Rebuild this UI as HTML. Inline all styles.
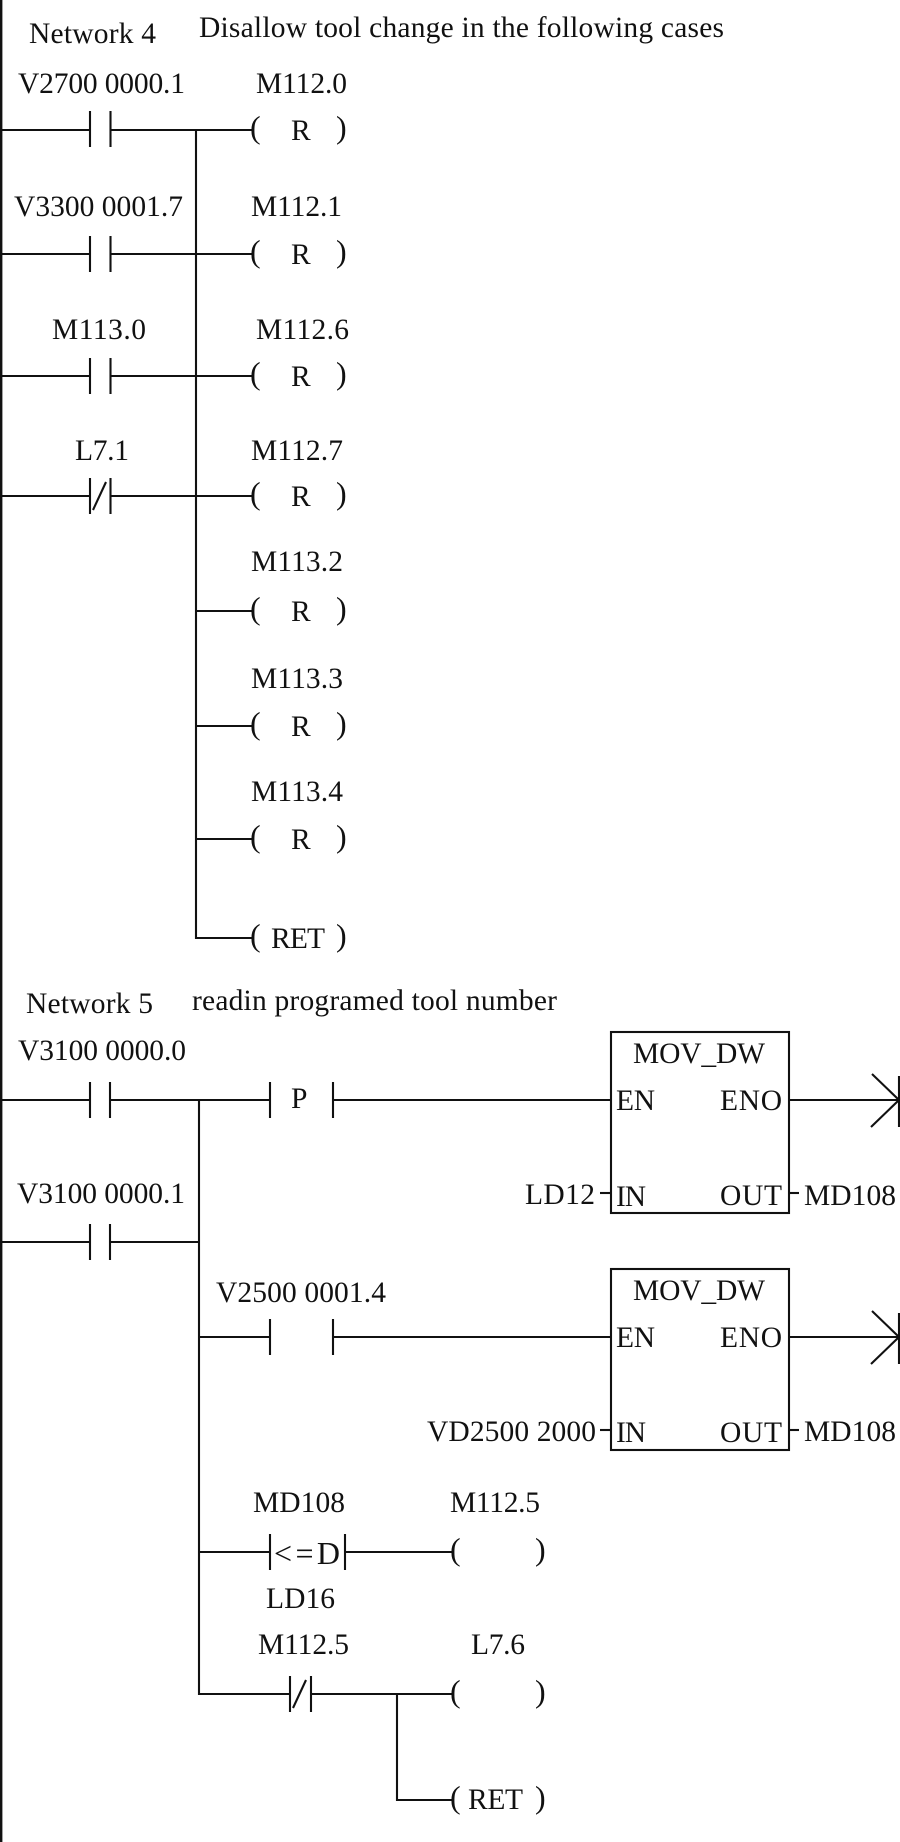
<!DOCTYPE html>
<html>
<head>
<meta charset="utf-8">
<style>
html,body{margin:0;padding:0;background:#fff;}
svg{display:block;}
text{font-family:"Liberation Serif",serif;font-size:29.5px;fill:#111;}
text.p{font-size:32px;}
text.c{font-size:32px;}
line,path,rect{stroke:#111;stroke-width:2.1;fill:none;}
</style>
</head>
<body>
<svg width="900" height="1842" viewBox="0 0 900 1842" xmlns="http://www.w3.org/2000/svg">
<rect x="0" y="0" width="900" height="1842" style="fill:#fff;stroke:none"/>
<line x1="1" y1="0" x2="1" y2="1842" style="stroke-width:2.8"/>

<!-- Network 4 -->
<text x="29" y="43" textLength="127">Network 4</text>
<text x="199" y="37" textLength="525">Disallow tool change in the following cases</text>

<text x="18" y="93" textLength="167">V2700 0000.1</text>
<text x="256" y="93" textLength="91">M112.0</text>
<text x="14" y="216" textLength="169">V3300 0001.7</text>
<text x="251" y="216" textLength="91">M112.1</text>
<text x="52" y="339" textLength="94">M113.0</text>
<text x="256" y="339" textLength="93">M112.6</text>
<text x="75" y="460" textLength="54">L7.1</text>
<text x="251" y="460" textLength="92">M112.7</text>
<text x="251" y="571" textLength="92">M113.2</text>
<text x="251" y="688" textLength="92">M113.3</text>
<text x="251" y="801" textLength="92">M113.4</text>

<line x1="2" y1="130" x2="90" y2="130"/><line x1="110" y1="130" x2="252" y2="130"/>
<line x1="90" y1="111" x2="90" y2="147"/><line x1="110.500" y1="111" x2="110.500" y2="147"/>
<line x1="2" y1="254" x2="90" y2="254"/><line x1="110" y1="254" x2="252" y2="254"/>
<line x1="90" y1="236" x2="90" y2="272"/><line x1="110.500" y1="236" x2="110.500" y2="272"/>
<line x1="2" y1="376" x2="90" y2="376"/><line x1="110" y1="376" x2="252" y2="376"/>
<line x1="90" y1="358" x2="90" y2="394"/><line x1="110.500" y1="358" x2="110.500" y2="394"/>
<line x1="2" y1="496" x2="90" y2="496"/><line x1="110" y1="496" x2="252" y2="496"/>
<line x1="90" y1="478" x2="90" y2="514"/><line x1="110.500" y1="478" x2="110.500" y2="514"/>
<line x1="93" y1="510" x2="106" y2="482"/>

<line x1="196" y1="130" x2="196" y2="939"/>
<line x1="196" y1="611" x2="252" y2="611"/>
<line x1="196" y1="726" x2="252" y2="726"/>
<line x1="196" y1="839" x2="252" y2="839"/>
<line x1="195" y1="938" x2="252" y2="938"/>

<text class="p" x="250" y="138">(</text><text x="291" y="140">R</text><text class="p" x="336" y="138">)</text>
<text class="p" x="250" y="262">(</text><text x="291" y="264">R</text><text class="p" x="336" y="262">)</text>
<text class="p" x="250" y="384">(</text><text x="291" y="386">R</text><text class="p" x="336" y="384">)</text>
<text class="p" x="250" y="504">(</text><text x="291" y="506">R</text><text class="p" x="336" y="504">)</text>
<text class="p" x="250" y="619">(</text><text x="291" y="621">R</text><text class="p" x="336" y="619">)</text>
<text class="p" x="250" y="734">(</text><text x="291" y="736">R</text><text class="p" x="336" y="734">)</text>
<text class="p" x="250" y="847">(</text><text x="291" y="849">R</text><text class="p" x="336" y="847">)</text>
<text class="p" x="250" y="946">(</text><text x="271" y="948" textLength="54">RET</text><text class="p" x="336" y="946">)</text>

<!-- Network 5 -->
<text x="26" y="1013" textLength="127">Network 5</text>
<text x="192" y="1010" textLength="365">readin programed tool number</text>
<text x="18" y="1060" textLength="168">V3100 0000.0</text>
<text x="17" y="1203" textLength="168">V3100 0000.1</text>

<line x1="2" y1="1100" x2="90" y2="1100"/><line x1="110" y1="1100" x2="270" y2="1100"/>
<line x1="90" y1="1082" x2="90" y2="1118"/><line x1="110" y1="1082" x2="110" y2="1118"/>
<line x1="2" y1="1242" x2="90" y2="1242"/><line x1="110" y1="1242" x2="199" y2="1242"/>
<line x1="90" y1="1224" x2="90" y2="1260"/><line x1="110" y1="1224" x2="110" y2="1260"/>
<line x1="199" y1="1100" x2="199" y2="1695"/>

<line x1="270" y1="1082" x2="270" y2="1118"/><line x1="333" y1="1082" x2="333" y2="1118"/>
<line x1="333" y1="1100" x2="611" y2="1100"/>
<text x="291" y="1108">P</text>

<rect x="611" y="1032" width="178" height="181"/>
<text x="633" y="1063" textLength="132">MOV_DW</text>
<text x="616" y="1110" textLength="39">EN</text>
<text x="720" y="1110" textLength="62">ENO</text>
<text x="525" y="1204" textLength="70">LD12</text>
<text x="616" y="1206" textLength="30">IN</text>
<text x="720" y="1205" textLength="62">OUT</text>
<text x="804" y="1205" textLength="92">MD108</text>
<line x1="600" y1="1193" x2="611" y2="1193"/><line x1="789" y1="1193" x2="799" y2="1193"/>
<line x1="789" y1="1100" x2="899" y2="1100"/>
<path d="M872 1074 L899 1100 L871 1127"/>
<line x1="899" y1="1076" x2="899" y2="1127"/>

<line x1="199" y1="1337" x2="270" y2="1337"/>
<line x1="270" y1="1319" x2="270" y2="1355"/><line x1="333" y1="1319" x2="333" y2="1355"/>
<line x1="333" y1="1337" x2="611" y2="1337"/>
<text x="216" y="1302" textLength="170">V2500 0001.4</text>

<rect x="611" y="1269" width="178" height="181"/>
<text x="633" y="1300" textLength="132">MOV_DW</text>
<text x="616" y="1347" textLength="39">EN</text>
<text x="720" y="1347" textLength="62">ENO</text>
<text x="427" y="1441" textLength="169">VD2500 2000</text>
<text x="616" y="1442" textLength="30">IN</text>
<text x="720" y="1442" textLength="62">OUT</text>
<text x="804" y="1441" textLength="92">MD108</text>
<line x1="600" y1="1430" x2="611" y2="1430"/><line x1="789" y1="1430" x2="799" y2="1430"/>
<line x1="789" y1="1337" x2="899" y2="1337"/>
<path d="M872 1311 L899 1337 L871 1364"/>
<line x1="899" y1="1313" x2="899" y2="1364"/>

<line x1="199" y1="1552" x2="270" y2="1552"/>
<line x1="270" y1="1534" x2="270" y2="1570"/><line x1="345" y1="1534" x2="345" y2="1570"/>
<line x1="345" y1="1552" x2="452" y2="1552"/>
<text x="253" y="1512" textLength="92">MD108</text>
<text x="450" y="1512" textLength="90">M112.5</text>
<text class="c" x="274" y="1564" textLength="66">&lt;=D</text>
<text x="266" y="1608" textLength="69">LD16</text>
<text class="p" x="450" y="1560">(</text><text class="p" x="535" y="1560">)</text>

<line x1="198" y1="1694" x2="290" y2="1694"/>
<line x1="290" y1="1676" x2="290" y2="1712"/><line x1="311" y1="1676" x2="311" y2="1712"/>
<line x1="293" y1="1708" x2="306" y2="1680"/>
<line x1="311" y1="1694" x2="452" y2="1694"/>
<line x1="397" y1="1694" x2="397" y2="1801"/>
<line x1="396" y1="1800" x2="452" y2="1800"/>
<text x="258" y="1654" textLength="91">M112.5</text>
<text x="471" y="1654" textLength="54">L7.6</text>
<text class="p" x="450" y="1702">(</text><text class="p" x="535" y="1702">)</text>
<text class="p" x="450" y="1808">(</text><text x="468" y="1809" textLength="55">RET</text><text class="p" x="535" y="1808">)</text>
</svg>
</body>
</html>
